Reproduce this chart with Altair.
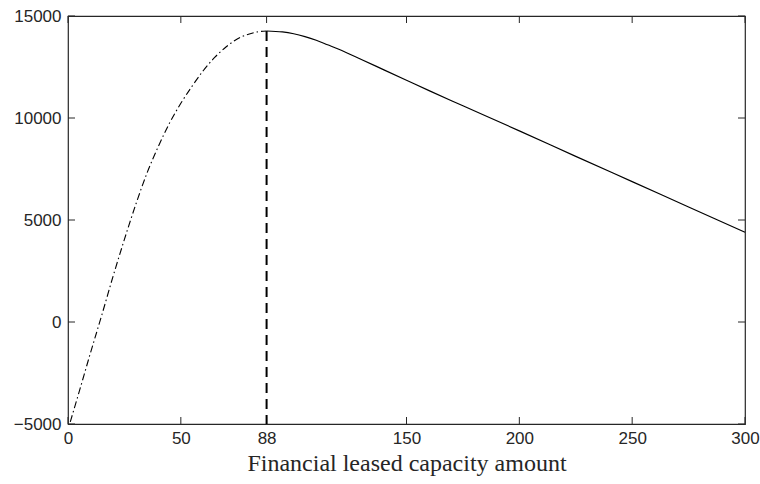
import altair as alt
import pandas as pd

# Left (dash-dot) branch of the curve
left_x = [1, 5, 10, 15, 20, 25, 30, 35, 40, 45, 50, 55, 60, 65, 70, 75, 80, 85, 88]
left_y = [-4900, -3400, -1500, 350, 2250, 4050, 5750, 7300, 8600, 9750, 10720,
          11560, 12330, 12970, 13480, 13870, 14110, 14240, 14265]

# Right (solid) branch of the curve
right_x = [88, 95, 100, 105, 110, 115, 120, 130, 140, 150, 160, 175, 200, 225, 250, 275, 300]
right_y = [14265, 14220, 14130, 13990, 13810, 13590, 13370, 12870, 12360, 11850,
           11340, 10600, 9370, 8120, 6880, 5640, 4400]

# Optimum marker
opt_x = [88]
opt_top = [14265]
opt_bottom = [-5000]

x_ticks = [0, 50, 88, 150, 200, 250, 300]
y_ticks = [-5000, 0, 5000, 10000, 15000]
x_title = "Financial leased capacity amount"

W, H = 677, 408
TICK = 7
AX = "#262626"

xs = alt.Scale(domain=[0, 300], nice=False, zero=False)
ys = alt.Scale(domain=[-5000, 15000], nice=False, zero=False)

x_axis = alt.Axis(values=x_ticks, title=x_title, format="d", ticks=False, tickSize=0,
                  domain=False, grid=False, labelFont="Liberation Sans", labelFontSize=17,
                  labelColor=AX, labelPadding=6, labelFlush=False, labelOverlap=False,
                  titleFont="Liberation Serif", titleFontSize=24, titleFontWeight="normal",
                  titleColor=AX, titlePadding=5)
y_axis = alt.Axis(values=y_ticks, title=None, format="d", ticks=False, tickSize=0,
                  domain=False, grid=False, labelFont="Liberation Sans", labelFontSize=17,
                  labelColor=AX, labelPadding=7, labelFlush=False, labelOverlap=False)

left_df = pd.DataFrame({"x": left_x, "y": left_y})
right_df = pd.DataFrame({"x": right_x, "y": right_y})
opt_df = pd.DataFrame({"x": opt_x, "y": opt_top, "y2": opt_bottom})
xt_df = pd.DataFrame({"x": x_ticks})
yt_df = pd.DataFrame({"y": y_ticks})

left_line = alt.Chart(left_df).mark_line(
    color="black", strokeWidth=1.1, strokeDash=[7, 3, 1.5, 3], interpolate="monotone"
).encode(x=alt.X("x:Q", scale=xs, axis=x_axis), y=alt.Y("y:Q", scale=ys, axis=y_axis))

right_line = alt.Chart(right_df).mark_line(
    color="black", strokeWidth=1.2, interpolate="monotone"
).encode(x=alt.X("x:Q", scale=xs, axis=x_axis), y=alt.Y("y:Q", scale=ys, axis=y_axis))

opt_rule = alt.Chart(opt_df).mark_rule(
    color="black", strokeWidth=2, strokeDash=[10, 6]
).encode(x=alt.X("x:Q", scale=xs, axis=x_axis), y=alt.Y("y:Q", scale=ys, axis=y_axis),
         y2="y2:Q")

xt_bottom = alt.Chart(xt_df).mark_rule(color=AX, strokeWidth=1).encode(
    x=alt.X("x:Q", scale=xs, axis=x_axis), y=alt.value(H), y2=alt.value(H - TICK))
xt_top = alt.Chart(xt_df).mark_rule(color=AX, strokeWidth=1).encode(
    x=alt.X("x:Q", scale=xs, axis=x_axis), y=alt.value(0), y2=alt.value(TICK))
yt_left = alt.Chart(yt_df).mark_rule(color=AX, strokeWidth=1).encode(
    y=alt.Y("y:Q", scale=ys, axis=y_axis), x=alt.value(0), x2=alt.value(TICK))
yt_right = alt.Chart(yt_df).mark_rule(color=AX, strokeWidth=1).encode(
    y=alt.Y("y:Q", scale=ys, axis=y_axis), x=alt.value(W - TICK), x2=alt.value(W))

chart = alt.layer(
    xt_bottom, xt_top, yt_left, yt_right, left_line, right_line, opt_rule
).properties(
    width=W, height=H,
    autosize=alt.AutoSizeParams(type="none"),
    padding={"left": 68, "top": 16, "right": 15, "bottom": 60},
    background="white",
).configure_view(stroke=AX, strokeWidth=1.2)

chart.save("out.html", embed_options={"renderer": "svg", "actions": False})
